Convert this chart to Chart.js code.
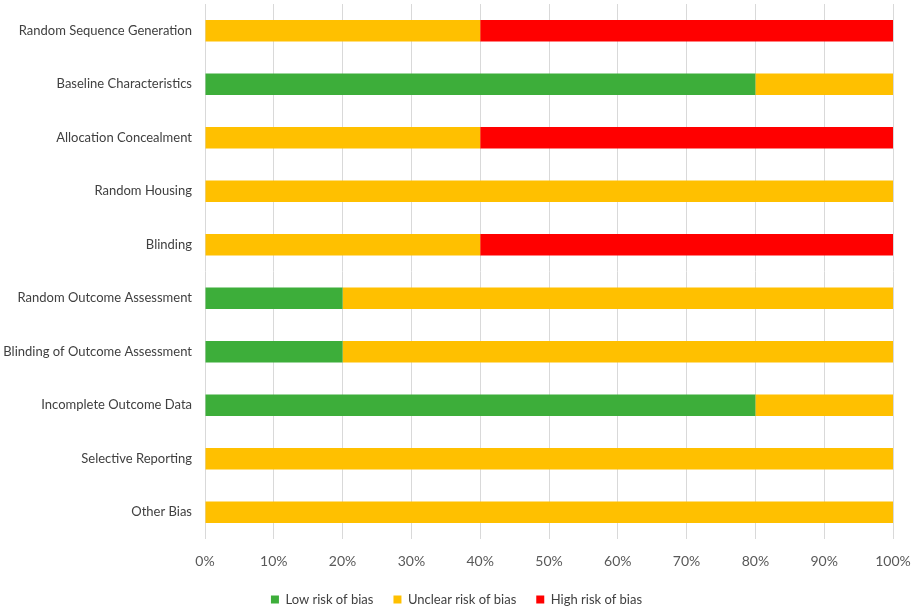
<!DOCTYPE html>
<html>
<head>
<meta charset="utf-8">
<script src="https://cdn.jsdelivr.net/npm/chart.js@4"></script>
<style>
  html, body { margin: 0; padding: 0; background: #fff; }
  #wrap { width: 913px; height: 610px; }
</style>
</head>
<body>
<div id="wrap"><canvas id="biasChart"></canvas></div>
<script>
// ===== Risk of bias data (percent of studies) =====
const domains = [
  "Random Sequence Generation",
  "Baseline Characteristics",
  "Allocation Concealment",
  "Random Housing",
  "Blinding",
  "Random Outcome Assessment",
  "Blinding of Outcome Assessment",
  "Incomplete Outcome Data",
  "Selective Reporting",
  "Other Bias"
];
const lowRisk     = [0, 80, 0, 0, 0, 20, 20, 80, 0, 0];
const unclearRisk = [40, 20, 40, 100, 40, 80, 80, 20, 100, 100];
const highRisk    = [60, 0, 60, 0, 60, 0, 0, 0, 0, 0];
const xTicks = [0, 10, 20, 30, 40, 50, 60, 70, 80, 90, 100];

const ctx = document.getElementById("biasChart");

new Chart(ctx, {
  type: "bar",
  data: {
    labels: domains,
    datasets: [
      { label: "Low risk of bias", data: lowRisk, backgroundColor: "#3dae3a" },
      { label: "Unclear risk of bias", data: unclearRisk, backgroundColor: "#ffc000" },
      { label: "High risk of bias", data: highRisk, backgroundColor: "#ff0000" }
    ]
  },
  options: {
    indexAxis: "y",
    responsive: true,
    maintainAspectRatio: false,
    animation: false,
    layout: { padding: { top: 4, right: 0, left: 0, bottom: -6 } },
    datasets: { bar: { categoryPercentage: 1, barPercentage: 0.4 } },
    plugins: {
      legend: {
        position: "bottom",
        labels: {
          boxWidth: 8,
          boxHeight: 8,
          padding: 20,
          color: "#404040",
          font: { family: "Lato", size: 13 }
        }
      },
      tooltip: { enabled: false }
    },
    scales: {
      x: {
        stacked: true,
        min: 0,
        max: 100,
        afterBuildTicks: (axis) => { axis.ticks = xTicks.map(v => ({ value: v })); },
        afterFit: (scale) => {
          scale.paddingLeft = 0;
          scale.paddingRight = 20;
          scale.height = 34;
        },
        ticks: {
          callback: (v) => v + "%",
          color: "#595959",
          padding: 14,
          font: { family: "Lato", size: 14 }
        },
        grid: { color: "#d9d9d9", drawTicks: false },
        border: { display: false }
      },
      y: {
        stacked: true,
        afterFit: (scale) => {
          scale.paddingTop = 4;
          scale.paddingBottom = 0;
          scale.width = 205;
        },
        ticks: {
          color: "#404040",
          padding: 13,
          font: { family: "Lato", size: 13 }
        },
        grid: { display: false, drawTicks: false },
        border: { display: false }
      }
    }
  }
});
</script>
</body>
</html>
